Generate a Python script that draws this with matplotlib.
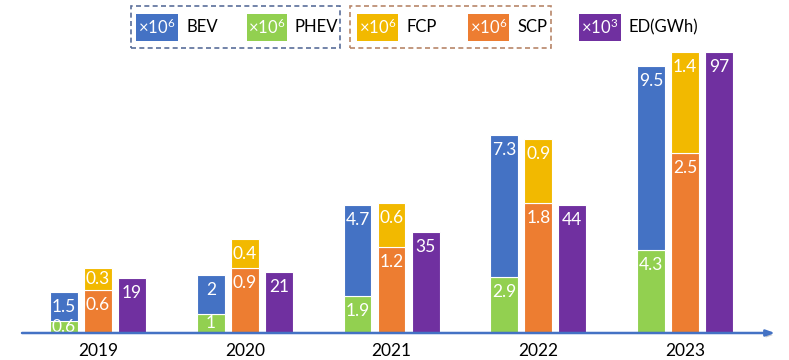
import matplotlib
matplotlib.use("Agg")
import matplotlib.pyplot as plt
from matplotlib.patches import Rectangle
import matplotlib.patheffects as pe

plt.rcParams['font.family'] = ['Lato', 'DejaVu Sans']
plt.rcParams['mathtext.default'] = 'regular'

years = ['2019', '2020', '2021', '2022', '2023']
bev = [1.5, 2, 4.7, 7.3, 9.5]
phev = [0.6, 1, 1.9, 2.9, 4.3]
fcp = [0.3, 0.4, 0.6, 0.9, 1.4]
scp = [0.6, 0.9, 1.2, 1.8, 2.5]
ed = [19, 21, 35, 44, 97]

C_BEV = '#4472C4'
C_PHEV = '#92D050'
C_FCP = '#F2B900'
C_SCP = '#ED7D31'
C_ED = '#7030A0'

W, H = 789, 360
fig = plt.figure(figsize=(W / 100, H / 100), dpi=100)

def fx(px):
    return px / W

def fy(py):
    return 1 - py / H

ax = fig.add_axes([fx(22), fy(333), fx(775 - 22), fy(50) - fy(333)])
ax2 = ax.twinx()
ax3 = ax.twinx()
for a in (ax, ax2, ax3):
    for s in a.spines.values():
        s.set_visible(False)
    a.set_yticks([])
    a.set_xlim(-0.518, 4.613)
ax.set_ylim(0, 14.6)
ax2.set_ylim(0, 3.93)
ax3.set_ylim(0, 97.6)

x = list(range(len(years)))
bw = 0.19
off = 0.232
ekw = dict(edgecolor='white', linewidth=0.8)

xb = [i - off for i in x]
xs = [i for i in x]
xe = [i + off for i in x]
ax.bar(xb, phev, bw, color=C_PHEV, **ekw)
ax.bar(xb, bev, bw, bottom=phev, color=C_BEV, **ekw)
ax2.bar(xs, scp, bw, color=C_SCP, **ekw)
ax2.bar(xs, fcp, bw, bottom=scp, color=C_FCP, **ekw)
ax3.bar(xe, ed, bw, color=C_ED, **ekw)

ax.set_xticks(x)
ax.set_xticklabels(years, fontsize=12.5)
ax.tick_params(axis='x', length=0, pad=7)


def label(a, xp, bottom, top, text):
    y0 = a.transData.transform((0, bottom))[1]
    y1 = a.transData.transform((0, top))[1]
    hpx = y1 - y0
    d = min(15, hpx / 2)
    a.annotate(text, (xp, top), xytext=(0, -d * 0.72), textcoords='offset points',
               ha='center', va='center', color='white', fontsize=12.5, zorder=5)


def fmt(v):
    return ('%g' % v)

for i in x:
    label(ax, xb[i], 0, phev[i], fmt(phev[i]))
    label(ax, xb[i], phev[i], phev[i] + bev[i], fmt(bev[i]))
    label(ax2, xs[i], 0, scp[i], fmt(scp[i]))
    label(ax2, xs[i], scp[i], scp[i] + fcp[i], fmt(fcp[i]))
    label(ax3, xe[i], 0, ed[i], fmt(ed[i]))

# axis line with arrow
ax3.annotate('', xy=(1.0, 0), xytext=(0, 0), xycoords='axes fraction',
             arrowprops=dict(arrowstyle='-|>,head_length=0.5,head_width=0.18',
                             color=C_BEV, lw=1.8, shrinkA=0, shrinkB=0,
                             path_effects=[pe.SimplePatchShadow(offset=(1, -1.5), shadow_rgbFace='#999999', alpha=0.5), pe.Normal()]),
             zorder=10, annotation_clip=False)

# legend
def box(x0, y0, x1, y1, color):
    fig.patches.append(Rectangle((fx(x0), fy(y1)), fx(x1 - x0), fy(y0) - fy(y1),
                                 transform=fig.transFigure, fill=False,
                                 edgecolor=color, linewidth=1.2, linestyle=(0, (3, 2))))

box(131, 6, 340, 48, '#5A6E9A')
box(350, 6, 551, 48, '#B8866A')

def swatch(x0, x1, color, exp, name):
    fig.patches.append(Rectangle((fx(x0), fy(41)), fx(x1 - x0), fy(14) - fy(41),
                                 transform=fig.transFigure, facecolor=color,
                                 edgecolor='none'))
    fig.text(fx((x0 + x1) / 2), fy(27.5), r'×10$^{%s}$' % exp, color='white',
             fontsize=12, ha='center', va='center')
    fig.text(fx(x1 + 8), fy(27.5), name, color='black', fontsize=12,
             ha='left', va='center')

swatch(136, 178, C_BEV, '6', 'BEV')
swatch(247, 287, C_PHEV, '6', 'PHEV')
swatch(357, 398, C_FCP, '6', 'FCP')
swatch(468, 509, C_SCP, '6', 'SCP')
swatch(579, 621, C_ED, '3', 'ED(GWh)')

fig.savefig('out.png', dpi=100)
